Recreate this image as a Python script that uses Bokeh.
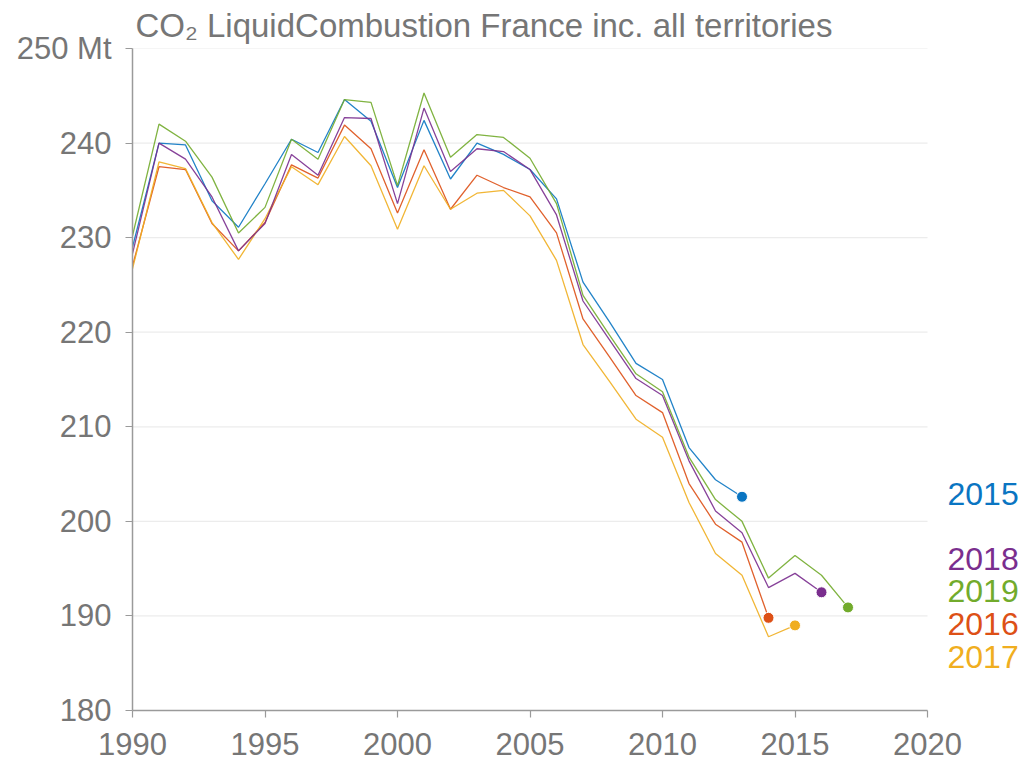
from bokeh.plotting import figure
from bokeh.models import Label, FixedTicker
from bokeh.embed import file_html
from bokeh.resources import INLINE

years = list(range(1990, 2018))

# Series values (Mt CO2), by report edition
s2015 = [229.0, 240.0, 239.8, 233.9, 231.1, 235.7, 240.4, 239.0, 244.6, 242.3, 235.3,
         242.4, 236.2, 240.0, 238.8, 237.2, 234.1, 225.3, 221.1, 216.7, 215.0,
         207.8, 204.4, 202.6]
s2016 = [227.0, 237.5, 237.2, 231.5, 228.6, 231.6, 237.7, 236.3, 241.9, 239.4, 232.6,
         239.3, 233.0, 236.6, 235.3, 234.3, 230.5, 221.4, 217.4, 213.3, 211.5,
         204.0, 199.7, 197.8, 189.8]
s2017 = [226.7, 238.0, 237.3, 231.6, 227.7, 232.0, 237.5, 235.6, 240.7, 237.6, 230.9,
         237.6, 233.0, 234.7, 235.0, 232.3, 227.6, 218.7, 214.8, 210.8, 208.9,
         202.0, 196.6, 194.3, 187.8, 189.0]
s2018 = [228.3, 240.0, 238.3, 234.3, 228.6, 231.5, 238.8, 236.6, 242.7, 242.6, 233.6,
         243.7, 237.0, 239.4, 239.1, 237.2, 232.4, 223.3, 219.2, 215.1, 213.3,
         206.4, 201.1, 198.8, 193.0, 194.5, 192.5]
s2019 = [230.2, 242.0, 240.2, 236.4, 230.5, 233.2, 240.4, 238.3, 244.6, 244.3, 235.5,
         245.3, 238.5, 240.9, 240.6, 238.4, 233.6, 223.9, 219.7, 215.6, 213.7,
         206.8, 202.3, 200.0, 194.0, 196.4, 194.3, 190.9]

series_names = ["2015", "2016", "2017", "2018", "2019"]
series_values = [s2015, s2016, s2017, s2018, s2019]
colors = ["#0a75c2", "#dd5016", "#f0ae20", "#7a2e8e", "#72ab2c"]

y_ticks = [180, 190, 200, 210, 220, 230, 240, 250]
x_ticks = [1990, 1995, 2000, 2005, 2010, 2015, 2020]

FONT = "Liberation Sans"
GRAY = "#767676"
AXIS_GRAY = "#9a9a9a"

p = figure(width=1026, height=762, x_range=(1990, 2023.66), y_range=(180, 250),
           output_backend="svg", toolbar_location=None,
           min_border_left=132, min_border_right=2, min_border_top=48,
           min_border_bottom=52,
           title="CO\u2082 LiquidCombustion France inc. all territories")
p.outline_line_color = None
p.background_fill_color = "white"

p.title.text_font = FONT
p.title.text_font_size = "33px"
p.title.text_font_style = "normal"
p.title.text_color = GRAY
p.title.align = "left"
p.title.offset = 3
p.title.standoff = 9

p.xaxis.ticker = FixedTicker(ticks=x_ticks)
p.yaxis.ticker = FixedTicker(ticks=y_ticks)
p.xaxis.bounds = (1990, 2020)
p.yaxis.major_label_overrides = {250: "250 Mt"}
for ax in (p.xaxis[0], p.yaxis[0]):
    ax.axis_line_color = AXIS_GRAY
    ax.axis_line_width = 1.5
    ax.major_tick_line_color = AXIS_GRAY
    ax.major_tick_line_width = 1.2
    ax.major_tick_out = 7
    ax.major_tick_in = 0
    ax.minor_tick_line_color = None
    ax.major_label_text_font = FONT
    ax.major_label_text_font_size = "31px"
    ax.major_label_text_color = GRAY
p.yaxis.major_label_standoff = 14
p.xaxis.major_label_standoff = 15
p.xgrid.grid_line_color = None
p.ygrid.grid_line_color = None

# horizontal gridlines spanning the axis extent only
p.segment(x0=[x_ticks[0]] * (len(y_ticks) - 1), x1=[x_ticks[-1]] * (len(y_ticks) - 1),
          y0=y_ticks[1:], y1=y_ticks[1:], line_color="#ececec", line_width=1.2,
          level="underlay")

for name, vals, col in zip(series_names, series_values, colors):
    xs = years[:len(vals)]
    p.line(xs, vals, line_color=col, line_width=1.3, line_alpha=0.9)
    p.scatter([xs[-1]], [vals[-1]], size=11, fill_color=col, line_color="white",
              line_width=1)

# End labels, de-conflicted vertically
lasts = sorted([(v[-1], n, c) for n, v, c in zip(series_names, series_values, colors)],
               reverse=True)
gap = 3.45
pos = [l[0] for l in lasts]
for _ in range(100):
    changed = False
    for i in range(1, len(pos)):
        if pos[i - 1] - pos[i] < gap - 1e-9:
            mid = (pos[i - 1] + pos[i]) / 2
            pos[i - 1] = mid + gap / 2
            pos[i] = mid - gap / 2
            changed = True
    if not changed:
        break
for (val, name, col), y in zip(lasts, pos):
    p.add_layout(Label(x=x_ticks[-1], y=y, x_offset=20, y_offset=3, text=name,
                       text_color=col, text_font=FONT, text_font_size="32px",
                       text_baseline="middle", text_align="left"))

open("out.html", "w").write(file_html(p, INLINE))
